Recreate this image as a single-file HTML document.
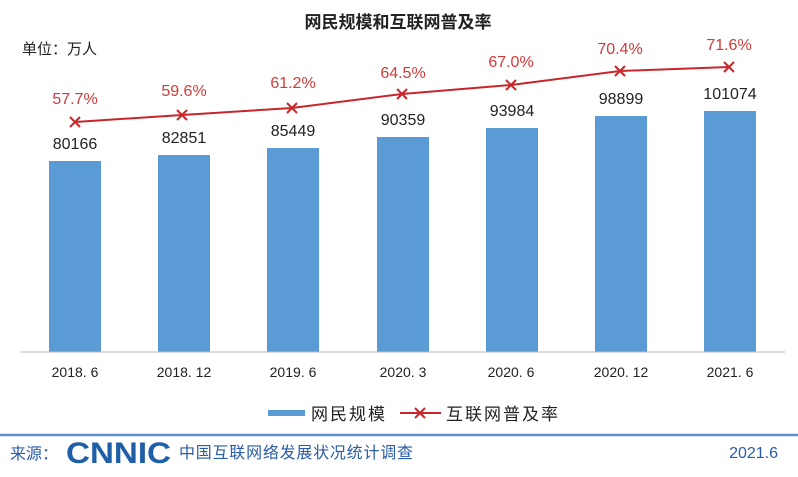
<!DOCTYPE html>
<html><head><meta charset="utf-8"><style>
body{margin:0;background:#fff;}
svg{display:block;font-family:"Liberation Sans","Noto Sans CJK SC",sans-serif;}
</style></head><body>
<svg width="798" height="477" viewBox="0 0 798 477">
<text x="398" y="28" text-anchor="middle" font-size="17" font-weight="bold" fill="#222">网民规模和互联网普及率</text>
<text x="22" y="54" font-size="15" fill="#222">单位：万人</text>
<g fill="#5b9bd5">
<rect x="49" y="161" width="52" height="191"/>
<rect x="158" y="155" width="52" height="197"/>
<rect x="267" y="148" width="52" height="204"/>
<rect x="377" y="137" width="52" height="215"/>
<rect x="486" y="128" width="52" height="224"/>
<rect x="595" y="116" width="52" height="236"/>
<rect x="704" y="111" width="52" height="241"/>
</g>
<line x1="20" y1="352" x2="785" y2="352" stroke="#bbb" stroke-width="1"/>
<g font-size="16" fill="#222" text-anchor="middle">
<text x="75" y="149">80166</text><text x="184" y="143">82851</text><text x="293" y="136">85449</text>
<text x="403" y="125">90359</text><text x="512" y="116">93984</text><text x="621" y="104">98899</text><text x="730" y="99">101074</text>
</g>
<polyline points="75,122 182,115 292,108 402,94 511,85 620,71 729,67" fill="none" stroke="#c8262b" stroke-width="2"/>
<g stroke="#c8262b" stroke-width="2">
<path d="M70,117l10,10M80,117l-10,10"/><path d="M177,110l10,10M187,110l-10,10"/><path d="M287,103l10,10M297,103l-10,10"/>
<path d="M397,89l10,10M407,89l-10,10"/><path d="M506,80l10,10M516,80l-10,10"/><path d="M615,66l10,10M625,66l-10,10"/><path d="M724,62l10,10M734,62l-10,10"/>
</g>
<g font-size="16" fill="#d03a3a" text-anchor="middle">
<text x="75" y="104">57.7%</text><text x="184" y="96">59.6%</text><text x="293" y="88">61.2%</text>
<text x="403" y="78">64.5%</text><text x="511" y="67">67.0%</text><text x="620" y="54">70.4%</text><text x="729" y="50">71.6%</text>
</g>
<g font-size="14" fill="#222" text-anchor="middle">
<text x="75" y="377">2018. 6</text><text x="184" y="377">2018. 12</text><text x="293" y="377">2019. 6</text>
<text x="403" y="377">2020. 3</text><text x="511" y="377">2020. 6</text><text x="621" y="377">2020. 12</text><text x="730" y="377">2021. 6</text>
</g>
<rect x="268" y="410" width="37" height="6" fill="#5b9bd5"/>
<text x="311" y="420" font-size="17" fill="#222" textLength="74">网民规模</text>
<line x1="400" y1="413" x2="441" y2="413" stroke="#c8262b" stroke-width="2"/>
<path d="M415,408l10,10M425,408l-10,10" stroke="#c8262b" stroke-width="2"/>
<text x="446" y="420" font-size="17" fill="#222" textLength="112">互联网普及率</text>
<line x1="0" y1="435" x2="798" y2="435" stroke="#5b8fd0" stroke-width="2.5"/>
<text x="10" y="459" font-size="16" fill="#2a5ca8">来源：</text>
<text x="66" y="463" font-size="30" font-weight="bold" fill="#1f5fa8" textLength="105" lengthAdjust="spacingAndGlyphs">CNNIC</text>
<text x="179" y="458" font-size="16" fill="#2a5ca8" textLength="234">中国互联网络发展状况统计调查</text>
<text x="778" y="458" font-size="16" fill="#2a5ca8" text-anchor="end">2021.6</text>
</svg>
</body></html>
